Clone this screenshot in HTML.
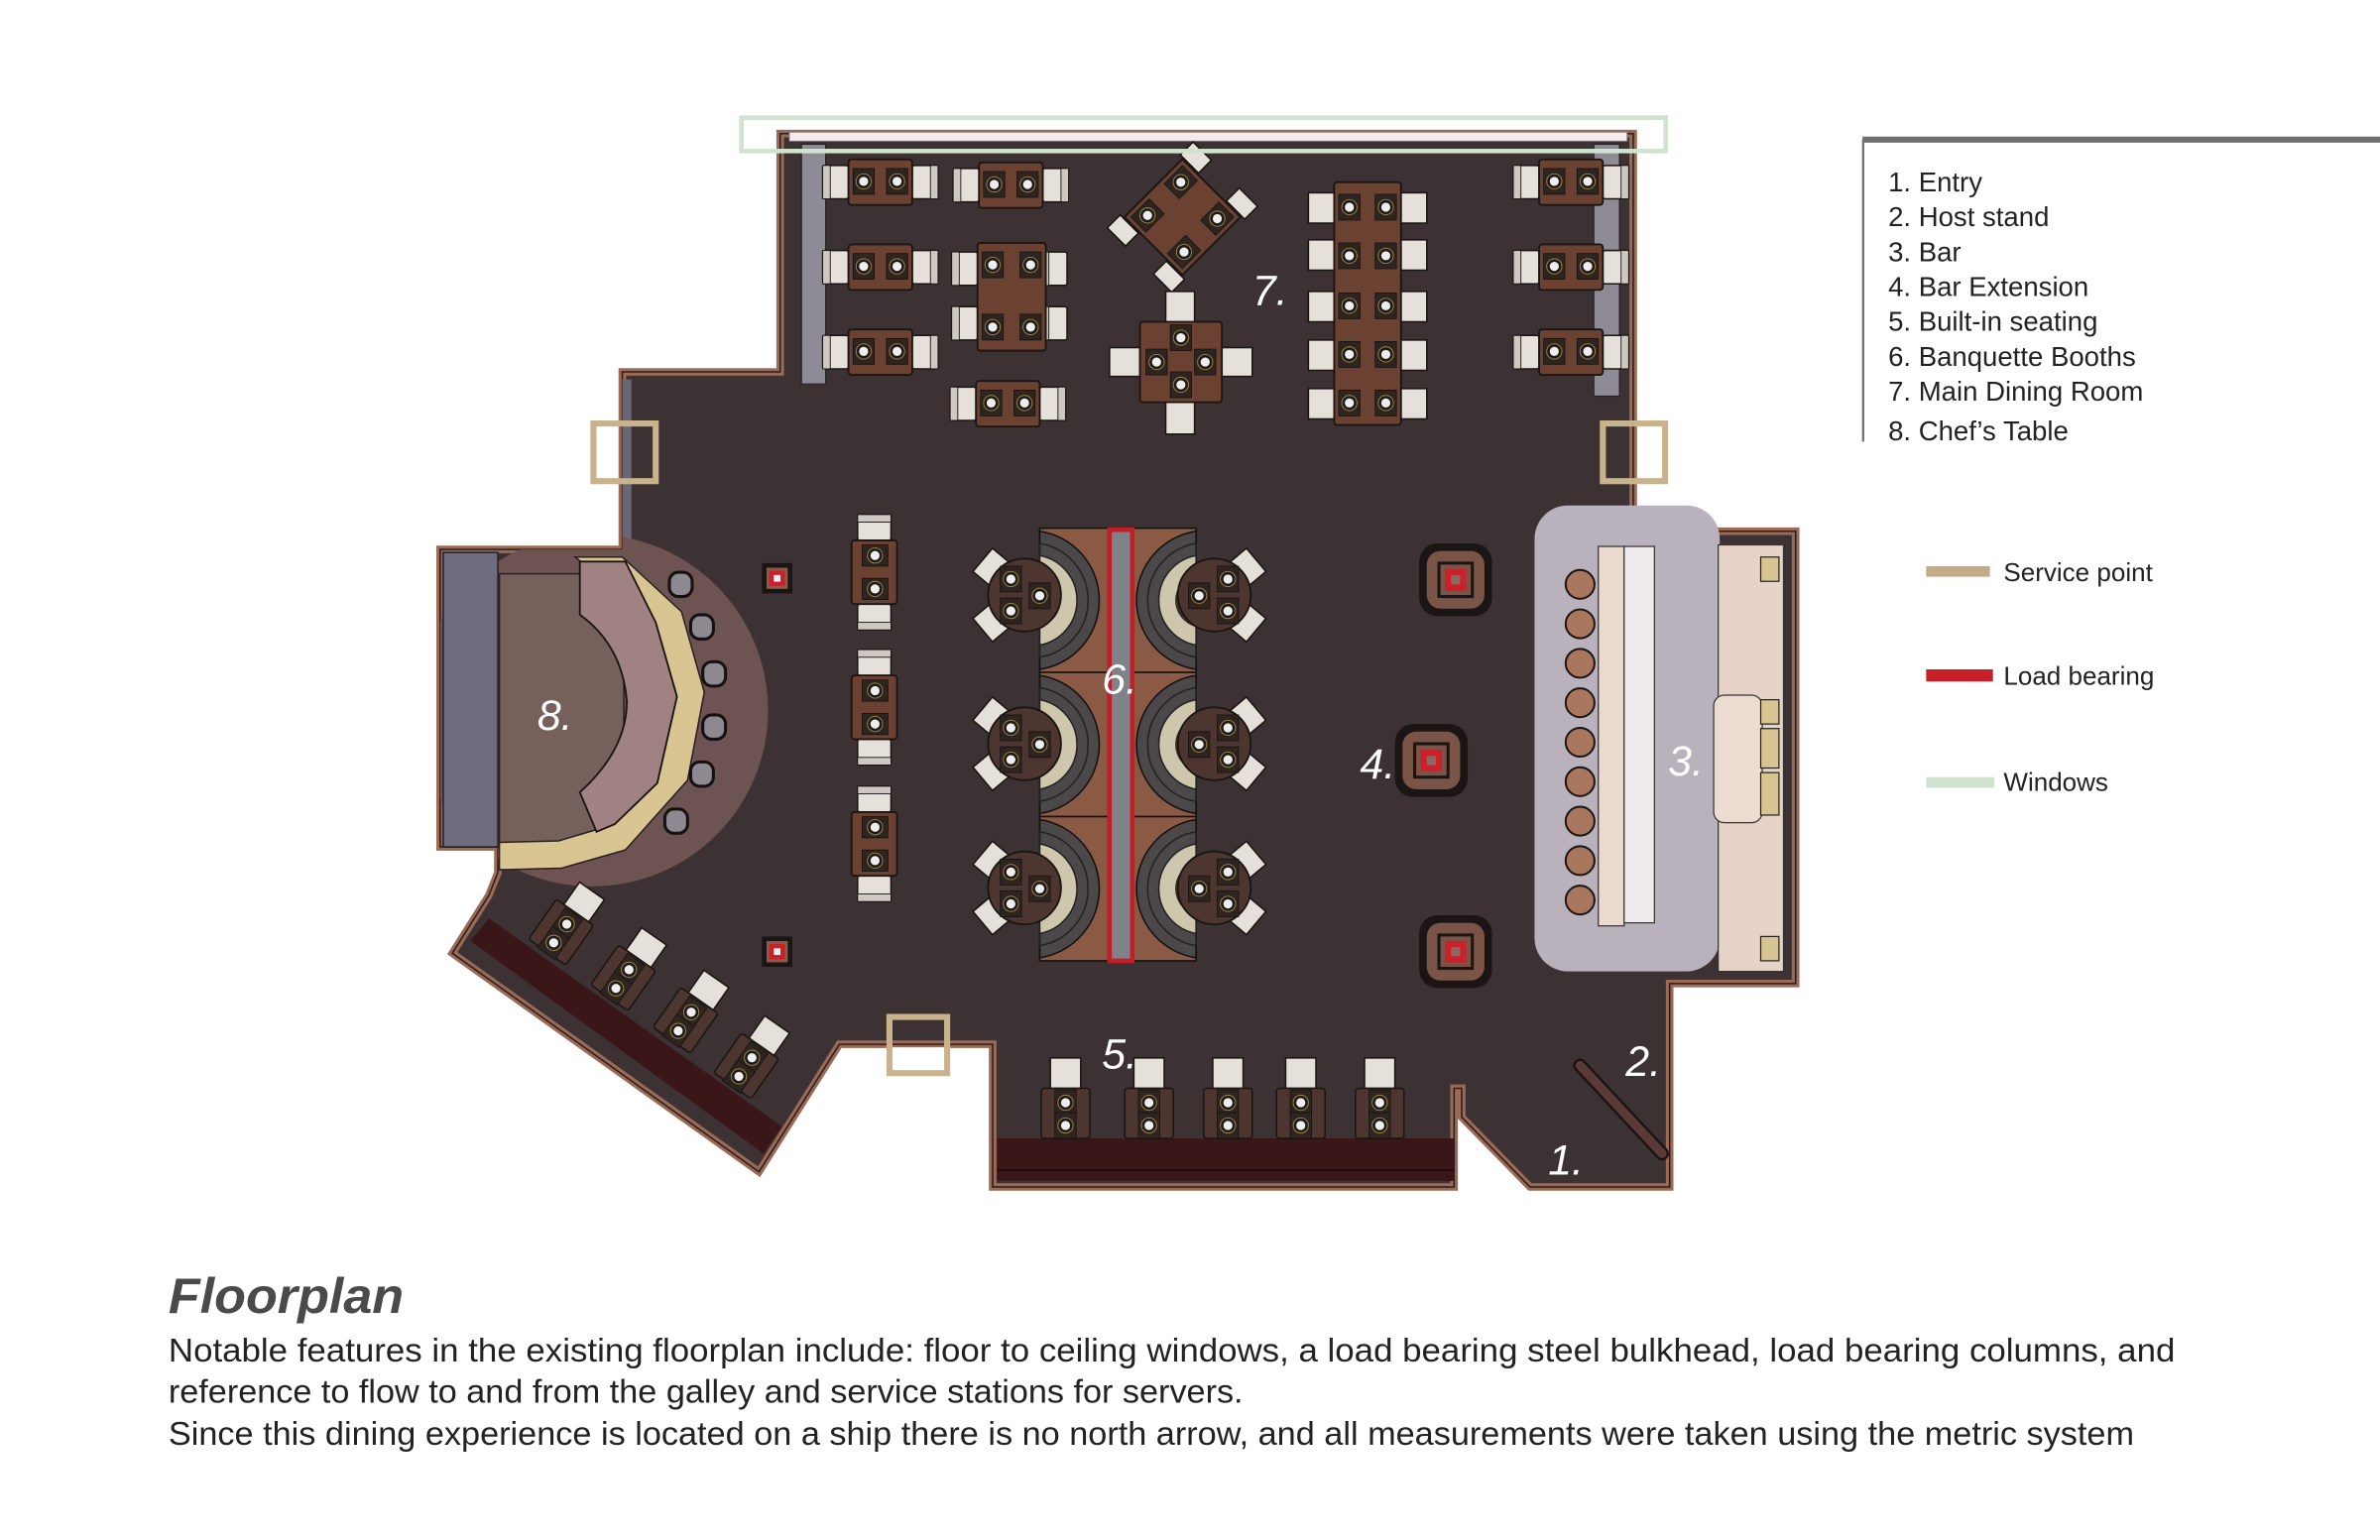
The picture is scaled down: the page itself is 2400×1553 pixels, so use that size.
<!DOCTYPE html>
<html><head><meta charset="utf-8"><style>
html,body{margin:0;padding:0;background:#fff;}
svg{display:block;}
</style></head><body>
<svg width="2400" height="1553" viewBox="0 0 1568 1014.6" xmlns="http://www.w3.org/2000/svg" font-family="'Liberation Sans', sans-serif">
<defs>
<clipPath id="fl"><polygon points="514,88 1076,88 1076,350 1183,350 1183,648 1100,648 1100,782 1008,782 963,736 963,717 958,717 958,782 654,782 654,688 553,688 500,772 298,628 322,590 328,575 328,558 290,558 290,362 410,362 410,245 514,245"/></clipPath>
<g id="pl"><rect x="0" y="0" width="14" height="17" fill="#2e2420" stroke="#111" stroke-width="0.5"/><circle cx="7" cy="8.5" r="5" fill="#1d1a1a" stroke="#a8893e" stroke-width="0.6"/><circle cx="7" cy="8.5" r="3" fill="#eee"/></g>
<g id="ch"><rect x="0" y="0" width="17" height="22" rx="1.5" fill="#e6e0da" stroke="#1a1412" stroke-width="1"/><rect x="0" y="0" width="5" height="22" fill="#cfc8c2" stroke="#1a1412" stroke-width="0.6"/></g>
<g id="t2h"><use href="#ch" x="0" y="4"/><g transform="translate(76,4) scale(-1,1)"><use href="#ch"/></g><rect x="17" y="0" width="42" height="30" rx="2" fill="#6b4232" stroke="#1a1412" stroke-width="1.2"/><use href="#pl" x="20" y="6"/><use href="#pl" x="42" y="6"/></g>
<g id="t2v"><g transform="rotate(90) translate(0,-30)"><use href="#t2h"/></g></g>
<g id="rt"><g transform="rotate(-40)"><rect x="-36" y="-10" width="16" height="20" fill="#e6e0da" stroke="#1a1412"/></g><g transform="rotate(40)"><rect x="-36" y="-10" width="16" height="20" fill="#e6e0da" stroke="#1a1412"/></g><circle r="24" fill="#4e3630" stroke="#1a1412" stroke-width="1.2"/><use href="#pl" x="-16" y="-19"/><use href="#pl" x="-16" y="2"/><use href="#pl" x="3" y="-8"/></g>
<g id="booth"><rect x="0" y="0" width="45" height="95" fill="#8a5a44" stroke="#111" stroke-width="1"/><path d="M0 2 A46 46 0 0 1 0 93 Z" fill="#4c4748" stroke="#111"/><path d="M0 10 A38 38 0 0 1 0 85 Z" fill="none" stroke="#222" stroke-width="1"/><path d="M0 18 A30 30 0 0 1 0 77 Z" fill="#cfc7ad" stroke="#222"/><path d="M0 30 A18 18 0 0 1 0 65 Z" fill="#3a302e"/></g>
<g id="col"><rect x="-24" y="-24" width="48" height="48" rx="12" fill="#1b1515"/><rect x="-19" y="-19" width="38" height="38" rx="9" fill="#7a5446"/><rect x="-11" y="-11" width="22" height="22" fill="#7a5446" stroke="#1b1515" stroke-width="2"/><rect x="-7" y="-7" width="14" height="14" fill="#cc1f2a"/><rect x="-3" y="-3" width="6" height="6" fill="#8a6a5e"/></g>
<g id="sc"><rect x="-10" y="-10" width="20" height="20" fill="#1b1515"/><rect x="-7" y="-7" width="14" height="14" fill="#8a5a44"/><rect x="-5" y="-5" width="10" height="10" fill="#cc1f2a"/><rect x="-2.2" y="-2.2" width="4.4" height="4.4" fill="#eee"/></g>
</defs>

<polygon points="514,88 1076,88 1076,350 1183,350 1183,648 1100,648 1100,782 1008,782 963,736 963,717 958,717 958,782 654,782 654,688 553,688 500,772 298,628 322,590 328,575 328,558 290,558 290,362 410,362 410,245 514,245" fill="#3d3233" stroke="#9a6a56" stroke-width="5" stroke-linejoin="miter"/>
<polygon points="514,88 1076,88 1076,350 1183,350 1183,648 1100,648 1100,782 1008,782 963,736 963,717 958,717 958,782 654,782 654,688 553,688 500,772 298,628 322,590 328,575 328,558 290,558 290,362 410,362 410,245 514,245" fill="none" stroke="#2a1e1c" stroke-width="1"/>

<rect x="528" y="95" width="16" height="158" fill="#8e8a96" stroke="#222" stroke-width="0.8"/>
<rect x="1050" y="95" width="17" height="166" fill="#8e8a96" stroke="#222" stroke-width="0.8"/>
<rect x="520" y="87" width="552" height="6" fill="#f4ecec" stroke="#777" stroke-width="0.6"/>
<rect x="410" y="250" width="6" height="112" fill="#6a6676"/>

<g clip-path="url(#fl)"><circle cx="390" cy="468" r="116" fill="#6d5453"/></g>
<rect x="292" y="364" width="36" height="194" fill="#6e6c7e" stroke="#2a2020" stroke-width="1"/>
<rect x="329" y="378" width="82" height="178" fill="#75605c" stroke="#2a2020" stroke-width="1"/>
<path d="M379,367 L410,367 L449,403 L464,456 L453,514 L412,560 L370,572 L329,573 L329,555 L368,554 L405,543 L433,516 L446,459 L432,410 Z" fill="#d8c592" stroke="#2a2020" stroke-width="1"/>
<path d="M382,370 L412,370 L432,410 L446,459 L433,516 L405,543 L393,548 L382,522 Q413,494 413,462 Q410,425 382,405 Z" fill="#a18283" stroke="#1a1414" stroke-width="1.2"/>
<g fill="#8e8890" stroke="#151111" stroke-width="2">
<rect x="441" y="377" width="15" height="16" rx="6"/><rect x="455" y="405" width="15" height="16" rx="6"/><rect x="463" y="436" width="15" height="16" rx="6"/><rect x="463" y="471" width="15" height="16" rx="6"/><rect x="455" y="502" width="15" height="16" rx="6"/><rect x="438" y="533" width="15" height="16" rx="6"/>
</g>

<rect x="1011" y="333" width="122" height="307" rx="22" fill="#b9b2bc"/>
<rect x="1053" y="360" width="17" height="250" fill="#ead9cf" stroke="#333" stroke-width="0.8"/>
<rect x="1070" y="360" width="20" height="248" fill="#eeeaee" stroke="#333" stroke-width="0.8"/>
<rect x="1132" y="359" width="43" height="281" fill="#e7d3c7" stroke="#333" stroke-width="0.8"/>
<rect x="1129" y="458" width="32" height="84" rx="7" fill="#eddcd2" stroke="#333" stroke-width="0.8"/>
<g fill="#d6c592" stroke="#222" stroke-width="0.8"><rect x="1160" y="367" width="12" height="16"/><rect x="1160" y="461" width="12" height="16"/><rect x="1160" y="480" width="12" height="26"/><rect x="1160" y="509" width="12" height="28"/><rect x="1160" y="617" width="12" height="16"/></g>
<g fill="#a9765e" stroke="#1a1412" stroke-width="1.3">
<circle cx="1041" cy="385" r="9.5"/><circle cx="1041" cy="411" r="9.5"/><circle cx="1041" cy="437" r="9.5"/><circle cx="1041" cy="463" r="9.5"/><circle cx="1041" cy="489" r="9.5"/><circle cx="1041" cy="515" r="9.5"/><circle cx="1041" cy="541" r="9.5"/><circle cx="1041" cy="567" r="9.5"/><circle cx="1041" cy="593" r="9.5"/>
</g>

<use href="#col" x="959" y="382"/><use href="#col" x="943" y="501"/><use href="#col" x="959" y="627"/>
<use href="#sc" x="512" y="381"/><use href="#sc" x="512" y="627"/>

<rect x="685" y="348" width="103" height="285" fill="#8a5a44" stroke="#111"/>
<use href="#booth" x="685" y="348"/><use href="#booth" x="685" y="443"/><use href="#booth" x="685" y="538"/>
<g transform="translate(788,0) scale(-1,1)"><use href="#booth" x="0" y="348"/><use href="#booth" x="0" y="443"/><use href="#booth" x="0" y="538"/></g>
<rect x="731" y="349" width="15" height="284" fill="#7f8389" stroke="#c41e28" stroke-width="3"/>
<use href="#rt" x="675" y="392"/><use href="#rt" x="675" y="490"/><use href="#rt" x="675" y="585"/>
<g transform="translate(1475,0) scale(-1,1)"><use href="#rt" x="675" y="392"/><use href="#rt" x="675" y="490"/><use href="#rt" x="675" y="585"/></g>

<use href="#t2h" x="542" y="105"/><use href="#t2h" x="542" y="161"/><use href="#t2h" x="542" y="217"/>
<use href="#t2h" x="628" y="107"/><use href="#t2h" x="626" y="251"/>
<use href="#t2h" x="997" y="105"/><use href="#t2h" x="997" y="161"/><use href="#t2h" x="997" y="217"/>
<use href="#ch" x="627" y="166"/><use href="#ch" x="627" y="202"/><use href="#ch" x="686" y="166"/><use href="#ch" x="686" y="202"/>
<rect x="644" y="160" width="45" height="71" rx="2" fill="#6b4232" stroke="#1a1412" stroke-width="1.2"/>
<use href="#pl" x="647" y="166"/><use href="#pl" x="672" y="166"/><use href="#pl" x="647" y="207"/><use href="#pl" x="672" y="207"/>
<g transform="translate(779,143) rotate(45)">
<rect x="-30" y="-40" width="17" height="12" fill="#e6e0da" stroke="#1a1412"/><rect x="13" y="-40" width="17" height="12" fill="#e6e0da" stroke="#1a1412"/>
<rect x="-30" y="28" width="17" height="12" fill="#e6e0da" stroke="#1a1412"/><rect x="13" y="28" width="17" height="12" fill="#e6e0da" stroke="#1a1412"/>
<rect x="-27" y="-27" width="54" height="54" fill="#6b4232" stroke="#1a1412" stroke-width="1.2"/>
<use href="#pl" x="-24" y="-24"/><use href="#pl" x="10" y="-24"/><use href="#pl" x="-24" y="7"/><use href="#pl" x="10" y="7"/>
</g>
<rect x="768" y="192" width="19" height="21" fill="#e6e0da" stroke="#1a1412"/><rect x="768" y="265" width="19" height="21" fill="#e6e0da" stroke="#1a1412"/>
<rect x="731" y="229" width="21" height="19" fill="#e6e0da" stroke="#1a1412"/><rect x="804" y="229" width="21" height="19" fill="#e6e0da" stroke="#1a1412"/>
<rect x="751" y="212" width="54" height="53" rx="2" fill="#6b4232" stroke="#1a1412" stroke-width="1.2"/>
<use href="#pl" x="771" y="214"/><use href="#pl" x="771" y="245"/><use href="#pl" x="755" y="230"/><use href="#pl" x="787" y="230"/>
<g fill="#e6e0da" stroke="#1a1412">
<rect x="862" y="127" width="17" height="20"/><rect x="862" y="158" width="17" height="20"/><rect x="862" y="192" width="17" height="20"/><rect x="862" y="224" width="17" height="20"/><rect x="862" y="256" width="17" height="20"/>
<rect x="923" y="127" width="17" height="20"/><rect x="923" y="158" width="17" height="20"/><rect x="923" y="192" width="17" height="20"/><rect x="923" y="224" width="17" height="20"/><rect x="923" y="256" width="17" height="20"/>
</g>
<rect x="879" y="120" width="44" height="160" rx="2" fill="#6b4232" stroke="#1a1412" stroke-width="1.2"/>
<use href="#pl" x="882" y="128"/><use href="#pl" x="906" y="128"/><use href="#pl" x="882" y="160"/><use href="#pl" x="906" y="160"/><use href="#pl" x="882" y="193"/><use href="#pl" x="906" y="193"/><use href="#pl" x="882" y="225"/><use href="#pl" x="906" y="225"/><use href="#pl" x="882" y="257"/><use href="#pl" x="906" y="257"/>
<use href="#t2v" x="561" y="339"/><use href="#t2v" x="561" y="428"/><use href="#t2v" x="561" y="518"/>

<rect x="657" y="750" width="301" height="28" fill="#3a1618"/>
<line x1="657" y1="771" x2="958" y2="771" stroke="#1a0a0a" stroke-width="1"/>
<g>
<rect x="692" y="697" width="20" height="20" fill="#e6e0da" stroke="#1a1412"/><rect x="686" y="717" width="32" height="33" rx="2" fill="#4e3630" stroke="#1a1412"/><use href="#pl" x="695" y="718"/><use href="#pl" x="695" y="733"/>
<rect x="747" y="697" width="20" height="20" fill="#e6e0da" stroke="#1a1412"/><rect x="741" y="717" width="32" height="33" rx="2" fill="#4e3630" stroke="#1a1412"/><use href="#pl" x="750" y="718"/><use href="#pl" x="750" y="733"/>
<rect x="799" y="697" width="20" height="20" fill="#e6e0da" stroke="#1a1412"/><rect x="793" y="717" width="32" height="33" rx="2" fill="#4e3630" stroke="#1a1412"/><use href="#pl" x="802" y="718"/><use href="#pl" x="802" y="733"/>
<rect x="847" y="697" width="20" height="20" fill="#e6e0da" stroke="#1a1412"/><rect x="841" y="717" width="32" height="33" rx="2" fill="#4e3630" stroke="#1a1412"/><use href="#pl" x="850" y="718"/><use href="#pl" x="850" y="733"/>
<rect x="899" y="697" width="20" height="20" fill="#e6e0da" stroke="#1a1412"/><rect x="893" y="717" width="32" height="33" rx="2" fill="#4e3630" stroke="#1a1412"/><use href="#pl" x="902" y="718"/><use href="#pl" x="902" y="733"/>
</g>

<polygon points="310,620 322,605 515,742 503,760" fill="#3a1618"/>
<g transform="translate(370,612) rotate(35)"><rect x="-8" y="-32" width="20" height="18" fill="#e6e0da" stroke="#1a1412"/><rect x="-14" y="-14" width="30" height="32" rx="2" fill="#4e3630" stroke="#1a1412"/><use href="#pl" x="-6" y="-13"/><use href="#pl" x="-6" y="2"/></g>
<g transform="translate(411,642) rotate(35)"><rect x="-8" y="-32" width="20" height="18" fill="#e6e0da" stroke="#1a1412"/><rect x="-14" y="-14" width="30" height="32" rx="2" fill="#4e3630" stroke="#1a1412"/><use href="#pl" x="-6" y="-13"/><use href="#pl" x="-6" y="2"/></g>
<g transform="translate(452,670) rotate(35)"><rect x="-8" y="-32" width="20" height="18" fill="#e6e0da" stroke="#1a1412"/><rect x="-14" y="-14" width="30" height="32" rx="2" fill="#4e3630" stroke="#1a1412"/><use href="#pl" x="-6" y="-13"/><use href="#pl" x="-6" y="2"/></g>
<g transform="translate(492,700) rotate(35)"><rect x="-8" y="-32" width="20" height="18" fill="#e6e0da" stroke="#1a1412"/><rect x="-14" y="-14" width="30" height="32" rx="2" fill="#4e3630" stroke="#1a1412"/><use href="#pl" x="-6" y="-13"/><use href="#pl" x="-6" y="2"/></g>

<line x1="1041" y1="702" x2="1095" y2="760" stroke="#1a1212" stroke-width="9" stroke-linecap="round"/>
<line x1="1041" y1="702" x2="1095" y2="760" stroke="#5a3a36" stroke-width="6" stroke-linecap="round"/>

<rect x="488.5" y="77.5" width="609" height="22" fill="none" stroke="#cfe3cf" stroke-width="3"/>
<g fill="none" stroke="#c8b38c" stroke-width="4">
<rect x="391" y="279" width="41" height="38"/><rect x="1056" y="279" width="41" height="38"/><rect x="586" y="670" width="38" height="37"/>
</g>
<rect x="588" y="690" width="34" height="15" fill="#fff"/>

<g fill="#fff" font-style="italic" font-size="28">
<text x="825" y="201">7.</text><text x="726" y="457">6.</text><text x="354" y="481">8.</text><text x="896" y="513">4.</text><text x="1099" y="511">3.</text><text x="726" y="704">5.</text><text x="1071" y="709">2.</text><text x="1020" y="774">1.</text>
</g>

<line x1="1227" y1="92" x2="1568" y2="92" stroke="#707070" stroke-width="4"/>
<line x1="1227.5" y1="92" x2="1227.5" y2="291" stroke="#707070" stroke-width="1.5"/>
<g fill="#222" font-size="18">
<text x="1244" y="126">1. Entry</text><text x="1244" y="149">2. Host stand</text><text x="1244" y="172">3. Bar</text><text x="1244" y="195">4. Bar Extension</text><text x="1244" y="218">5. Built-in seating</text><text x="1244" y="241">6. Banquette Booths</text><text x="1244" y="264">7. Main Dining Room</text><text x="1244" y="290">8. Chef’s Table</text>
</g>
<rect x="1269" y="373" width="42" height="7" fill="#c4ab87"/>
<rect x="1269" y="441" width="44" height="8" fill="#c8202a"/>
<rect x="1269" y="512" width="45" height="7" fill="#cfe3cf"/>
<g fill="#222" font-size="17"><text x="1320" y="383">Service point</text><text x="1320" y="451">Load bearing</text><text x="1320" y="521">Windows</text></g>

<text x="111" y="865" font-size="33" font-weight="bold" font-style="italic" fill="#4a4a4a" textLength="155" lengthAdjust="spacingAndGlyphs">Floorplan</text>
<g fill="#222" font-size="21.5">
<text x="111" y="897" textLength="1322" lengthAdjust="spacingAndGlyphs">Notable features in the existing floorplan include: floor to ceiling windows, a load bearing steel bulkhead, load bearing columns, and</text>
<text x="111" y="924" textLength="708" lengthAdjust="spacingAndGlyphs">reference to flow to and from the galley and service stations for servers.</text>
<text x="111" y="952" textLength="1295" lengthAdjust="spacingAndGlyphs">Since this dining experience is located on a ship there is no north arrow, and all measurements were taken using the metric system</text>
</g>
</svg>
</body></html>
